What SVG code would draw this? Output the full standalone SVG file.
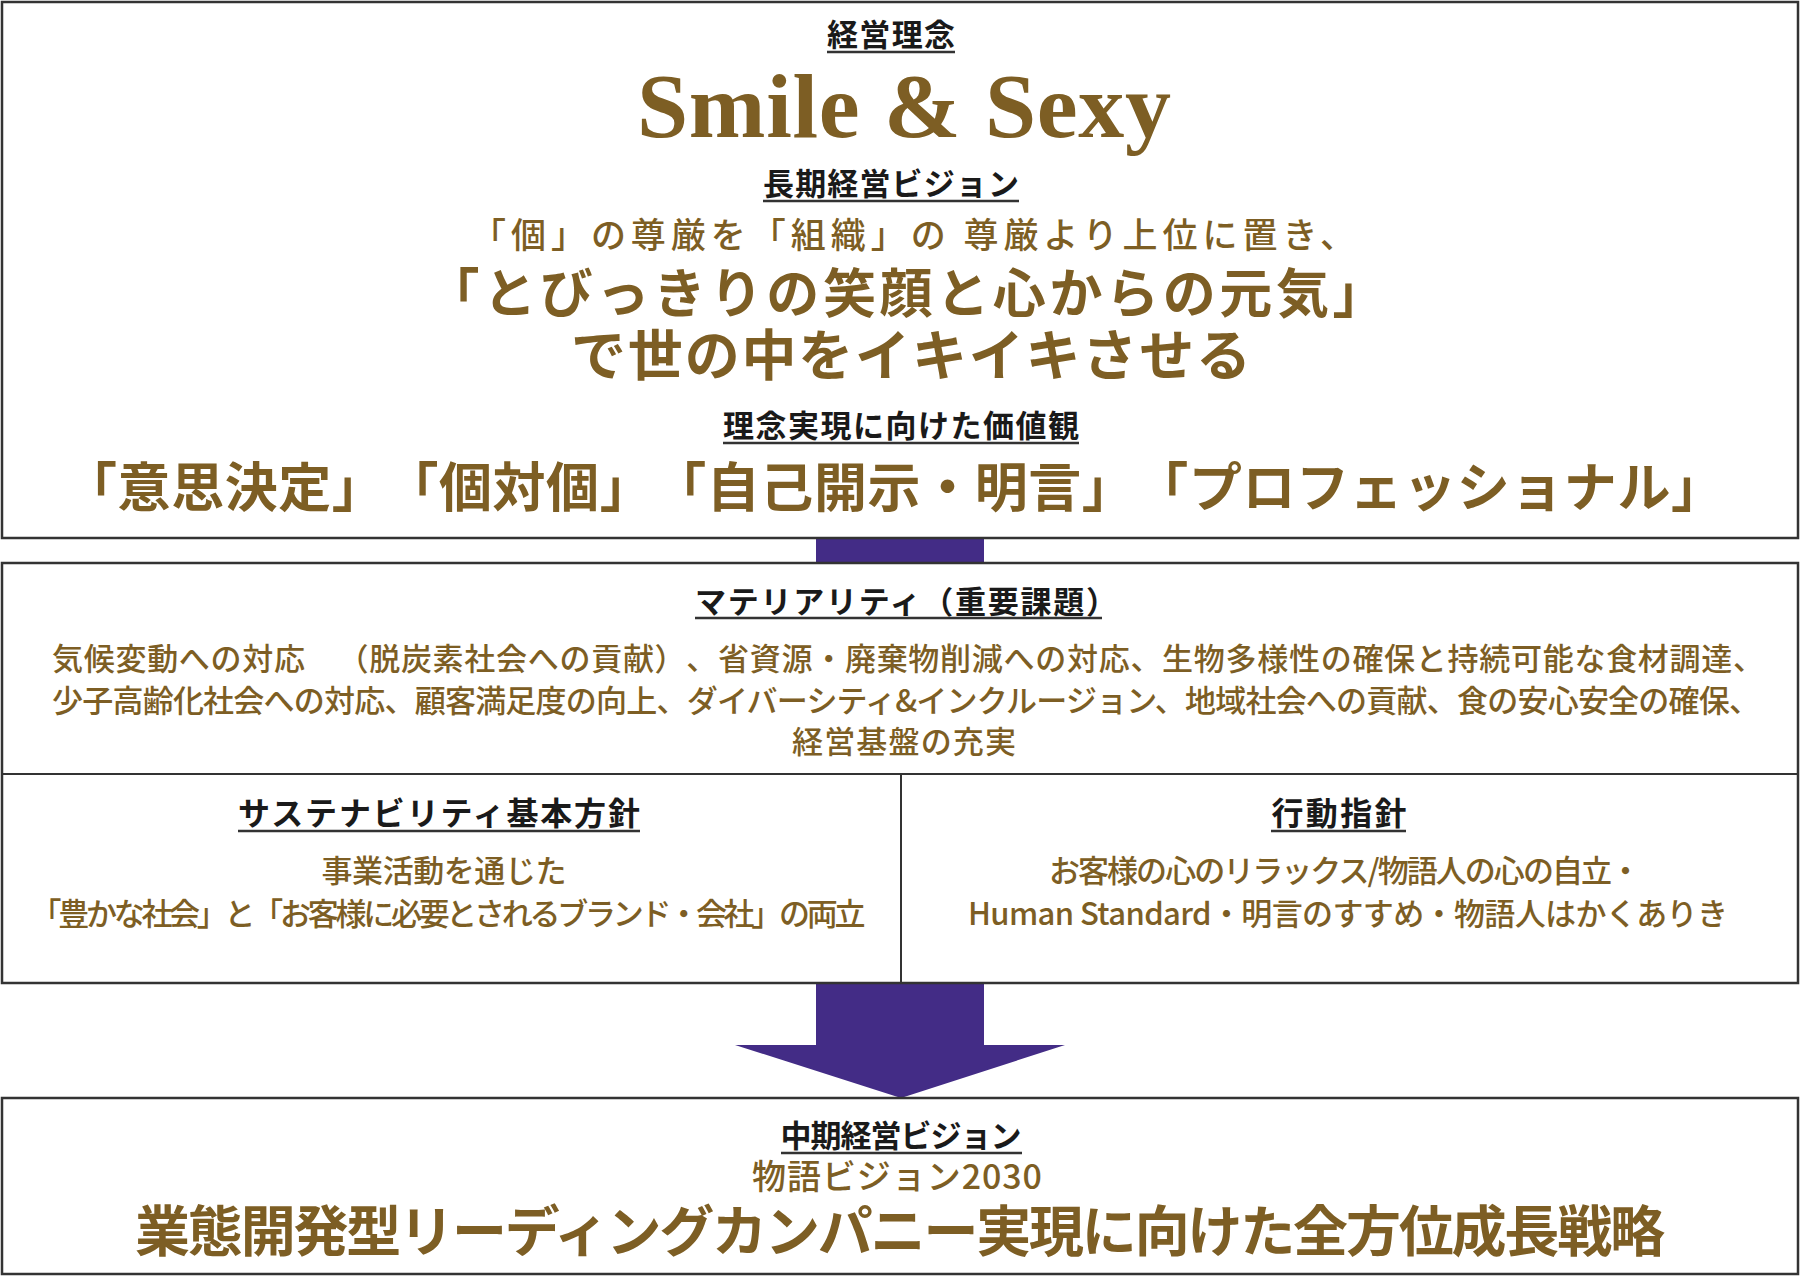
<svg xmlns="http://www.w3.org/2000/svg" width="1800" height="1278" viewBox="0 0 1800 1278">
<style>
text{text-spacing-trim:space-all}
.box{fill:#fff;stroke:#333;stroke-width:2.5}
.div{stroke:#333;stroke-width:2}
.ul{stroke:#333;stroke-width:2.5}
.h{font-family:"Noto Sans CJK JP","Noto Sans",sans-serif;font-weight:700;fill:#1a1a1a;text-anchor:middle}
.g{font-family:"Noto Sans CJK JP","Noto Sans",sans-serif;font-weight:500;fill:#7d5e24;text-anchor:middle}
.gb{font-family:"Noto Sans CJK JP","Noto Sans",sans-serif;font-weight:700;fill:#7d5e24;text-anchor:middle}
.serif{font-family:"Liberation Serif","DejaVu Serif",serif;font-weight:700;fill:#7d5e24;text-anchor:middle}
.arrow{fill:#432c86}
</style>
<rect width="1800" height="1278" fill="#fff"/>
<g id="connectors">
<rect class="arrow" x="816" y="538" width="168" height="25"/>
<polygon class="arrow" points="816,983 984,983 984,1045 1065,1045 901,1098 735,1045 816,1045"/>
</g>
<g id="philosophy">
<rect class="box" x="2" y="2" width="1796" height="536"/>
<text class="h" x="891" y="46" font-size="31" textLength="128">経営理念</text>
<line class="ul" x1="827" y1="52" x2="955" y2="52"/>
<text class="serif" x="904" y="137" font-size="92" textLength="534">Smile &amp; Sexy</text>
<text class="h" x="891" y="195" font-size="31" textLength="256">長期経営ビジョン</text>
<line class="ul" x1="763" y1="201" x2="1019" y2="201"/>
<text class="g" x="913" y="248" font-size="35" textLength="884">「個」の尊厳を「組織」の 尊厳より上位に置き、</text>
<text class="gb" x="906" y="313" font-size="53" textLength="959">「とびっきりの笑顔と心からの元気」</text>
<text class="gb" x="911" y="375" font-size="55" textLength="680">で世の中をイキイキさせる</text>
<text class="h" x="901" y="437" font-size="31" textLength="356">理念実現に向けた価値観</text>
<line class="ul" x1="723" y1="443" x2="1079" y2="443"/>
<text class="gb" x="894" y="507" font-size="53" textLength="1660">「意思決定」「個対個」「自己開示・明言」「プロフェッショナル」</text>
</g>
<g id="materiality">
<rect class="box" x="2" y="563" width="1796" height="420"/>
<line class="div" x1="2" y1="774" x2="1798" y2="774"/>
<line class="div" x1="901" y1="774" x2="901" y2="983"/>
<text class="h" x="906" y="613" font-size="31" textLength="422">マテリアリティ（重要課題）</text>
<line class="ul" x1="695" y1="618" x2="1102" y2="618"/>
<text class="g" x="908" y="670" font-size="31" textLength="1712">気候変動への対応　（脱炭素社会への貢献）、省資源・廃棄物削減への対応、生物多様性の確保と持続可能な食材調達、</text>
<text class="g" x="906" y="712" font-size="31" textLength="1708">少子高齢化社会への対応、顧客満足度の向上、ダイバーシティ&amp;インクルージョン、地域社会への貢献、食の安心安全の確保、</text>
<text class="g" x="904" y="753" font-size="31" textLength="224">経営基盤の充実</text>
</g>
<g id="sustainability">
<text class="h" x="439" y="825" font-size="32" textLength="402">サステナビリティ基本方針</text>
<line class="ul" x1="238" y1="831" x2="640" y2="831"/>
<text class="g" x="444" y="882" font-size="31" textLength="245">事業活動を通じた</text>
<text class="g" x="448" y="925" font-size="31" textLength="835">「豊かな社会」と「お客様に必要とされるブランド・会社」の両立</text>
</g>
<g id="conduct">
<text class="h" x="1339" y="825" font-size="32" textLength="135">行動指針</text>
<line class="ul" x1="1271" y1="831" x2="1406" y2="831"/>
<text class="g" x="1345" y="882" font-size="31" textLength="592">お客様の心のリラックス/物語人の心の自立・</text>
<text class="g" x="1348" y="925" font-size="31" textLength="760">Human Standard・明言のすすめ・物語人はかくありき</text>
</g>
<g id="midterm">
<rect class="box" x="2" y="1098" width="1796" height="176"/>
<text class="h" x="901" y="1147" font-size="31" textLength="241">中期経営ビジョン</text>
<line class="ul" x1="781" y1="1153" x2="1022" y2="1153"/>
<text class="g" x="897" y="1189" font-size="34" textLength="290">物語ビジョン2030</text>
<text class="gb" x="900" y="1251" font-size="55" textLength="1530">業態開発型リーディングカンパニー実現に向けた全方位成長戦略</text>
</g>
</svg>
